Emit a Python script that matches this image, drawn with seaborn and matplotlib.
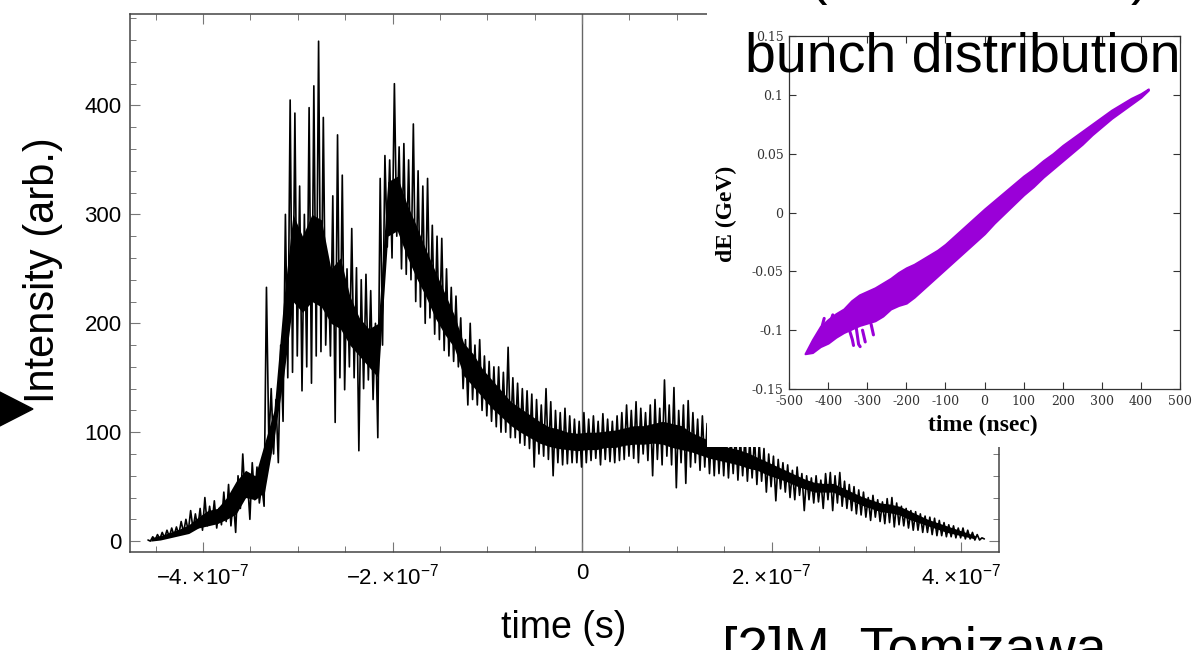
import numpy as np
import pandas as pd
import matplotlib
matplotlib.use('Agg')
import matplotlib.pyplot as plt
import seaborn as sns
from matplotlib.patches import Polygon
from matplotlib.ticker import FixedLocator, MultipleLocator, FuncFormatter

W, H = 1193, 650

# --- main trace (intensity vs time) ---
# samples every 0.05e-7 s starting at -4.58e-7 s; each sample has a high and a low reading
t_first = -4.58
t_step = 0.05
upper = [1, 4, 6, 8, 10, 12, 13, 18, 20, 28,
         25, 30, 40, 32, 37, 30, 45, 52, 38, 60,
         80, 55, 72, 68, 52, 233, 140, 130, 180, 300,
         405, 393, 326, 300, 398, 418, 459, 389, 260, 317,
         373, 336, 250, 287, 251, 240, 245, 230, 200, 333,
         354, 350, 420, 362, 365, 350, 383, 340, 326, 333,
         290, 280, 278, 250, 233, 225, 205, 185, 200, 180,
         185, 170, 165, 160, 160, 155, 178, 150, 145, 140,
         138, 135, 130, 125, 140, 128, 120, 118, 122, 115,
         112, 110, 118, 112, 115, 110, 117, 112, 110, 115,
         118, 125, 120, 128, 122, 118, 125, 130, 122, 148,
         125, 141, 120, 125, 129, 118, 112, 115, 108, 105,
         105, 100, 102, 98, 100, 95, 97, 92, 95, 90,
         85, 80, 78, 75, 72, 70, 65, 68, 62, 60,
         58, 60, 56, 62, 63, 60, 63, 55, 52, 50,
         47, 45, 40, 42, 38, 36, 39, 40, 35, 32,
         30, 28, 27, 25, 23, 22, 21, 19, 17, 15,
         14, 12, 12, 10, 8, 6, 3]
lower = [0, 1, 2, 3, 4, 5, 6, 8, 9, 11,
         12, 10, 14, 16, 12, 15, 18, 14, 8, 30,
         40, 20, 38, 35, 32, 90, 80, 72, 110, 150,
         155, 170, 138, 160, 145, 170, 174, 180, 170, 109,
         150, 139, 160, 150, 83, 140, 148, 130, 95, 180,
         270, 260, 280, 250, 245, 240, 220, 215, 200, 205,
         190, 185, 175, 170, 165, 160, 140, 125, 130, 125,
         120, 115, 110, 105, 100, 100, 95, 95, 90, 88,
         85, 68, 80, 78, 75, 60, 72, 70, 71, 72,
         72, 68, 72, 74, 76, 70, 75, 73, 72, 74,
         75, 78, 76, 72, 80, 74, 60, 75, 70, 78,
         70, 49, 72, 53, 68, 72, 65, 68, 62, 60,
         62, 60, 58, 62, 56, 60, 55, 58, 52, 55,
         45, 50, 37, 48, 45, 40, 38, 42, 28, 38,
         35, 36, 30, 38, 28, 35, 32, 30, 28, 25,
         24, 22, 19, 22, 18, 16, 17, 13, 15, 14,
         12, 10, 10, 8, 8, 6, 5, 5, 4, 4,
         3, 3, 2, 2, 1, 1, 2]

# solid (densely overplotted) core of the noisy trace, every 0.1e-7 s from -4.55e-7 s
core_first = -4.55
core_step = 0.1
core_lo = [0, 1, 3, 5, 7, 12, 14, 16, 20, 25,
           40, 38, 45, 95, 150, 220, 210, 220, 215, 200,
           195, 180, 170, 160, 150, 280, 285, 262, 242, 225,
           205, 190, 178, 152, 142, 132, 122, 114, 106, 100,
           95, 90, 87, 85, 84, 83,
           84, 84, 86, 86, 88, 89, 89, 90, 89, 86,
           84, 82, 79, 76, 74, 72, 70, 67, 65, 61,
           58, 55, 51, 48, 45, 45, 45, 41, 37, 33,
           30, 27, 26, 24, 20, 17, 14, 11, 8, 6,
           4, 2]
core_hi = [3, 5, 8, 11, 15, 22, 28, 30, 40, 55,
           65, 60, 90, 120, 220, 300, 280, 300, 295, 250,
           260, 225, 205, 195, 200, 330, 335, 310, 290, 268,
           248, 228, 208, 182, 172, 158, 148, 138, 128, 122,
           116, 110, 105, 103, 100, 99,
           100, 100, 101, 102, 104, 106, 106, 108, 110, 108,
           106, 100, 96, 92, 88, 86, 84, 81, 77, 73,
           69, 65, 61, 57, 54, 53, 53, 49, 45, 41,
           38, 35, 34, 32, 28, 24, 20, 17, 14, 11,
           8, 5]

# --- inset: bunch distribution (dE vs time), envelope of the purple band ---
band_t = [-459, -440, -420, -400, -380, -360, -340, -320, -300, -280, -260, -240,
          -220, -200, -180, -160, -140, -120, -100, -80, -60, -40, -20, 0,
          25, 50, 75, 100, 125, 150, 175, 200, 225, 250, 275, 300, 325, 350, 375, 400, 419]
band_top = [-0.120, -0.108, -0.097, -0.091, -0.086, -0.082, -0.075, -0.070, -0.067, -0.064,
            -0.060, -0.056, -0.051, -0.047, -0.044, -0.040, -0.036, -0.032, -0.027, -0.021,
            -0.015, -0.009, -0.003, 0.003, 0.010, 0.017, 0.024, 0.031, 0.037, 0.044,
            0.050, 0.057, 0.063, 0.069, 0.075, 0.081, 0.087, 0.092, 0.097, 0.101, 0.105]
band_bot = [-0.120, -0.119, -0.114, -0.111, -0.106, -0.102, -0.099, -0.096, -0.094, -0.092,
            -0.088, -0.082, -0.079, -0.077, -0.072, -0.066, -0.060, -0.054, -0.048, -0.042,
            -0.036, -0.030, -0.024, -0.018, -0.009, -0.001, 0.007, 0.015, 0.022, 0.030,
            0.037, 0.044, 0.051, 0.058, 0.066, 0.073, 0.080, 0.086, 0.092, 0.098, 0.104]
# loose strands hanging off the band near the tail
strand_id = [1, 1, 1, 2, 2, 2, 3, 3, 4, 4, 5, 5, 6, 6]
strand_t = [-350, -338, -335, -328, -322, -318, -312, -305, -290, -284, -418, -410, -395, -388]
strand_de = [-0.095, -0.108, -0.113, -0.098, -0.112, -0.114, -0.100, -0.110, -0.095, -0.104,
             -0.100, -0.090, -0.094, -0.087]

purple = '#9a00d8'

sns.set_style('ticks')
plt.rcParams['font.family'] = ['Liberation Sans', 'DejaVu Sans']
plt.rcParams['mathtext.fontset'] = 'custom'
plt.rcParams['mathtext.rm'] = 'Liberation Sans'
plt.rcParams['mathtext.it'] = 'Liberation Sans:italic'
plt.rcParams['mathtext.default'] = 'regular'
plt.rcParams['axes.unicode_minus'] = False
plt.rcParams['text.color'] = 'black'
plt.rcParams['xtick.labelcolor'] = 'black'
plt.rcParams['ytick.labelcolor'] = 'black'


def fx(px):
    return px / W


def fy(py):
    return 1 - py / H


fig = plt.figure(figsize=(W / 100, H / 100), dpi=100)
fig.patch.set_facecolor('white')

# --- main plot ---
ax = fig.add_axes([fx(130), fy(552), fx(999) - fx(130), fy(14) - fy(552)])
n = len(upper)
t = t_first + t_step * np.arange(n)
x = np.empty(2 * n)
y = np.empty(2 * n)
x[0::2] = t
x[1::2] = t + t_step / 2
y[0::2] = upper
y[1::2] = lower
trace = pd.DataFrame({'time': x * 1e-7, 'intensity': y})

core_t = (core_first + core_step * np.arange(len(core_lo))) * 1e-7
ax.fill_between(core_t, core_lo, core_hi, color='black', lw=0)
sns.lineplot(data=trace, x='time', y='intensity', ax=ax, color='black', lw=1.2,
             estimator=None, sort=False)
ax.axvline(0, color='#666666', lw=1.0, zorder=0)
ax.set_xlim(-4.77e-7, 4.40e-7)
ax.set_ylim(-10, 484)
ax.set_xlabel('')
ax.set_ylabel('')

ax.xaxis.set_major_locator(FixedLocator([-4e-7, -2e-7, 0, 2e-7, 4e-7]))
ax.xaxis.set_minor_locator(MultipleLocator(0.5e-7))
ax.yaxis.set_major_locator(MultipleLocator(100))
ax.yaxis.set_minor_locator(MultipleLocator(20))


def sci_label(v, pos):
    m = int(round(v * 1e7))
    if m == 0:
        return '0'
    return r'$%d.\!\times\!10^{-7}$' % m


ax.xaxis.set_major_formatter(FuncFormatter(sci_label))
ax.tick_params(which='both', direction='in', top=True, right=True, color='#777777')
ax.tick_params(which='major', length=7, width=0.8, labelsize=16, pad=8)
ax.tick_params(which='minor', length=4, width=0.7)
ax.tick_params(axis='y', pad=6)
for s in ax.spines.values():
    s.set_color('#444444')
    s.set_linewidth(1.1)

fig.text(fx(43), fy(270), 'Intensity (arb.)', rotation=90, ha='center', va='center', fontsize=30)
fig.text(fx(564), fy(628), 'time (s)', ha='center', va='center', fontsize=27)

# --- pasted inset picture ---
bg = fig.add_axes([fx(707), fy(447), fx(1193) - fx(707), fy(13) - fy(447)])
bg.set_facecolor('white')
bg.set_xticks([])
bg.set_yticks([])
for s in bg.spines.values():
    s.set_visible(False)

ax_in = fig.add_axes([fx(789), fy(389), fx(1180) - fx(789), fy(36) - fy(389)])
ax_in.fill_between(band_t, band_bot, band_top, color=purple, lw=1.5, edgecolor=purple)
strands = pd.DataFrame({'id': strand_id, 't': strand_t, 'dE': strand_de})
sns.lineplot(data=strands, x='t', y='dE', units='id', estimator=None, sort=False,
             color=purple, lw=2.2, ax=ax_in)
ax_in.set_xlim(-500, 500)
ax_in.set_ylim(-0.15, 0.15)
ax_in.set_xticks(np.arange(-500, 501, 100))
ax_in.set_yticks([-0.15, -0.1, -0.05, 0, 0.05, 0.1, 0.15])
ax_in.yaxis.set_major_formatter(FuncFormatter(lambda v, p: '%g' % round(v, 2)))
ax_in.set_xlabel('')
ax_in.set_ylabel('')
ax_in.tick_params(direction='in', length=5, width=0.8, top=True, right=True,
                  labelsize=9, pad=4, color='#333333', labelcolor='#333333',
                  labelfontfamily='DejaVu Serif')
for s in ax_in.spines.values():
    s.set_color('#333333')
    s.set_linewidth(0.9)

fig.text(fx(726), fy(214), 'dE (GeV)', rotation=90, ha='center', va='center',
         fontsize=17, fontweight='bold', family='Liberation Serif')
fig.text(fx(983), fy(425), 'time (nsec)', ha='center', va='center',
         fontsize=17, fontweight='bold', family='Liberation Serif')

# --- slide text around the chart ---
fig.text(fx(745), fy(71), 'bunch distribution', fontsize=40, ha='left', va='baseline')
fig.text(fx(722), fy(666), '[2]M. Tomizawa', fontsize=40, ha='left', va='baseline')
fig.text(fx(808), fy(-7), '(', fontsize=40, ha='left', va='baseline')
fig.text(fx(1131), fy(-7), ')', fontsize=40, ha='left', va='baseline')
fig.add_artist(Polygon([[fx(-12), fy(386)], [fx(33), fy(409)], [fx(-12), fy(432)]],
                       closed=True, transform=fig.transFigure, color='black'))

fig.savefig('out.png', dpi=100)
